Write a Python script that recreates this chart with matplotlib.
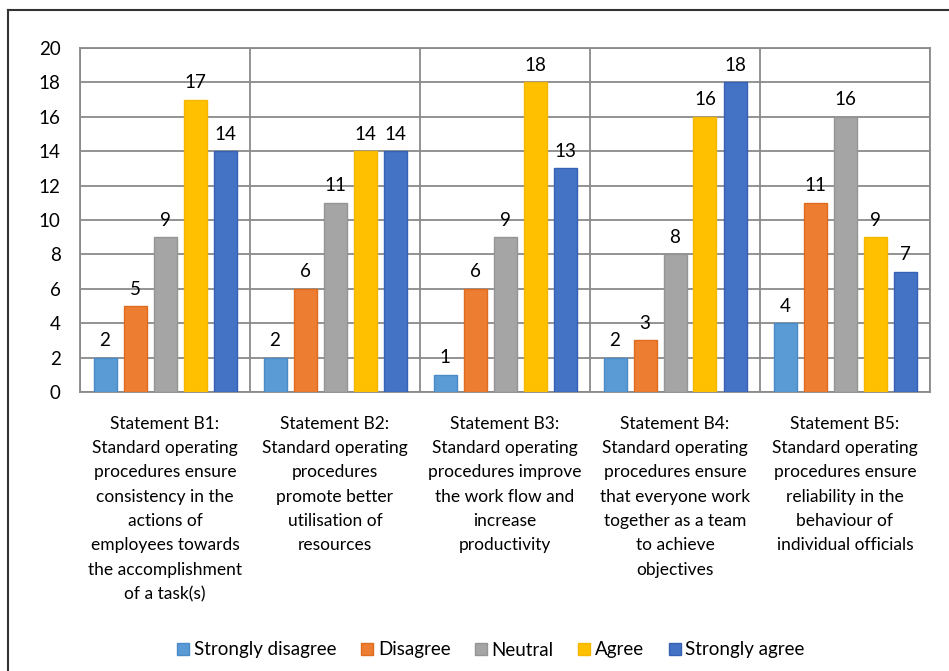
import matplotlib.pyplot as plt
import numpy as np
from matplotlib.lines import Line2D
from matplotlib.patches import Patch

plt.rcParams['font.family'] = ['Lato', 'DejaVu Sans']

categories = [
    "Statement B1:\nStandard operating\nprocedures ensure\nconsistency in the\nactions of\nemployees towards\nthe accomplishment\nof a task(s)",
    "Statement B2:\nStandard operating\nprocedures\npromote better\nutilisation of\nresources",
    "Statement B3:\nStandard operating\nprocedures improve\nthe work flow and\nincrease\nproductivity",
    "Statement B4:\nStandard operating\nprocedures ensure\nthat everyone work\ntogether as a team\nto achieve\nobjectives",
    "Statement B5:\nStandard operating\nprocedures ensure\nreliability in the\nbehaviour of\nindividual officials",
]
series_names = ["Strongly disagree", "Disagree", "Neutral", "Agree", "Strongly agree"]
strongly_disagree = [2, 2, 1, 2, 4]
disagree = [5, 6, 6, 3, 11]
neutral = [9, 11, 9, 8, 16]
agree = [17, 14, 18, 16, 9]
strongly_agree = [14, 14, 13, 18, 7]
yticks = list(range(0, 21, 2))

values = [strongly_disagree, disagree, neutral, agree, strongly_agree]
colors = ['#5B9BD5', '#ED7D31', '#A5A5A5', '#FFC000', '#4472C4']
edges = ['#4A8AC8', '#E06C20', '#959595', '#F5B800', '#3762B4']
txt = '#000000'

fig = plt.figure(figsize=(9.49, 6.71), dpi=100)
ax = fig.add_axes([80/949, 1-392/671, 850/949, 344/671])

x = np.arange(len(categories))
slot = 30/170
width = 23/170
for i, (vals, c, ec, name) in enumerate(zip(values, colors, edges, series_names)):
    pos = x + (i - 2) * slot
    bars = ax.bar(pos, vals, width, color=c, edgecolor=ec, linewidth=1, label=name, zorder=3)
    for b, v in zip(bars, vals):
        ax.annotate(str(v), (b.get_x() + b.get_width()/2, v), xytext=(0, 6),
                    textcoords='offset points', ha='center', va='bottom',
                    fontsize=13.5, color=txt)

ax.set_xlim(-0.5, len(categories) - 0.5)
ax.set_ylim(0, 20)
ax.set_yticks(yticks)
ax.set_xticks(x)
ax.set_xticklabels(categories, fontsize=12.5, linespacing=1.64, color=txt)
ax.set_xticks(np.arange(len(categories) + 1) - 0.5, minor=True)
ax.tick_params(axis='x', which='both', length=0, pad=17)
ax.tick_params(axis='y', length=0, pad=14, labelsize=13.5, labelcolor=txt)
ax.grid(axis='y', color='#8a8a8a', linewidth=1.3, zorder=0)
ax.grid(axis='x', which='minor', color='#8a8a8a', linewidth=1.3, zorder=0)
ax.set_axisbelow(True)
for s in ax.spines.values():
    s.set_color('#8a8a8a')
    s.set_linewidth(1.3)

handles = [Patch(facecolor=c, edgecolor=ec) for c, ec in zip(colors, edges)]
fig.legend(handles, series_names, loc='center', bbox_to_anchor=(491/949, 1-650/671),
           ncol=5, frameon=False, fontsize=13.5, handlelength=0.65, handleheight=0.65,
           handletextpad=0.25, columnspacing=1.3)

# outer frame (left and top edges visible)
fig.add_artist(Line2D([8/949, 8/949], [0, 1-10/671], color='#333333', linewidth=1.5))
fig.add_artist(Line2D([8/949, 1], [1-10/671, 1-10/671], color='#333333', linewidth=1.5))

fig.savefig('out.png', dpi=100)
